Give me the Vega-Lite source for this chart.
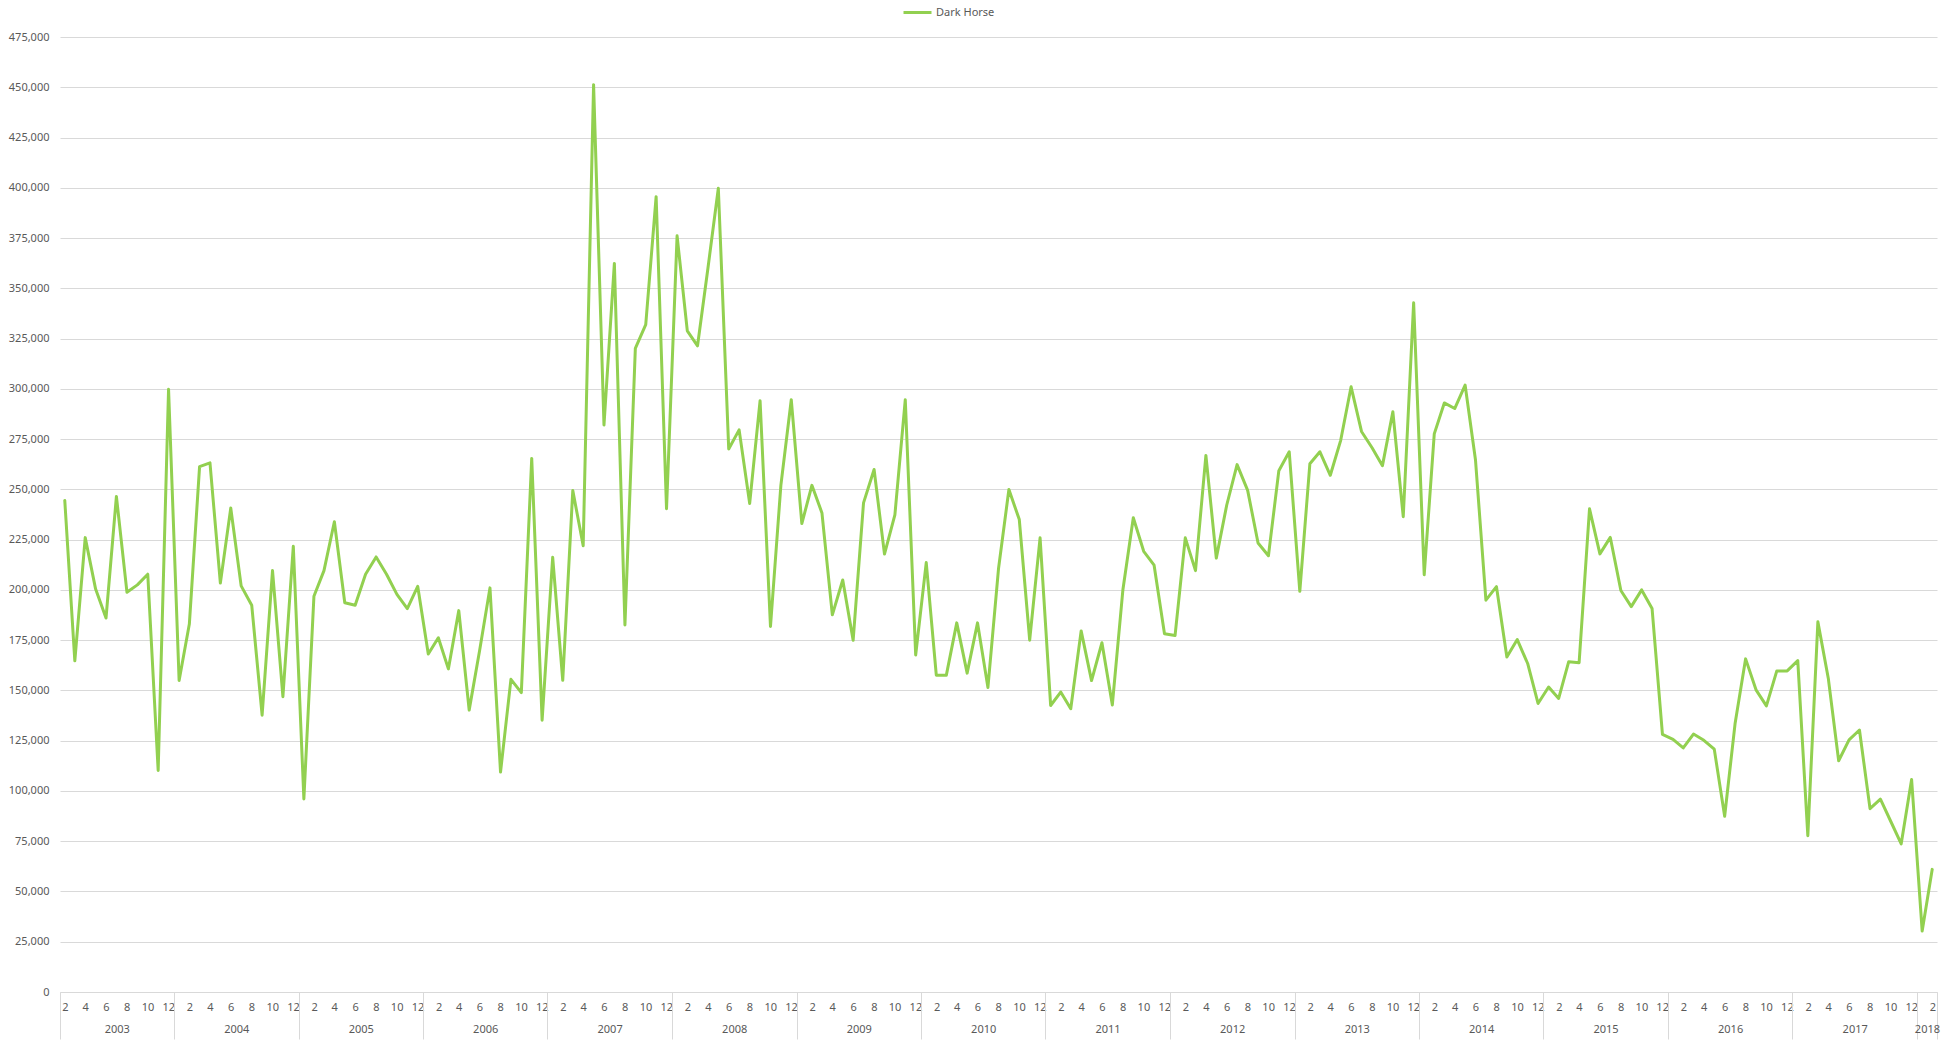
{
  "$schema": "https://vega.github.io/schema/vega-lite/v6.json",
  "autosize": {"type": "none"},
  "width": 1877,
  "height": 955,
  "padding": {"left": 60, "top": 37, "right": 14, "bottom": 53},
  "background": "#ffffff",
  "config": {
    "view": {"stroke": null},
    "font": "Noto Sans",
    "axis": {"labelFont": "Noto Sans", "labelFontSize": 11, "labelColor": "#595959"},
    "legend": {"labelFont": "Noto Sans"}
  },
  "data": {"values": [
    {"date": "2003-02", "series": "Dark Horse", "value": 244500},
    {"date": "2003-03", "series": "Dark Horse", "value": 164700},
    {"date": "2003-04", "series": "Dark Horse", "value": 226000},
    {"date": "2003-05", "series": "Dark Horse", "value": 200400},
    {"date": "2003-06", "series": "Dark Horse", "value": 186000},
    {"date": "2003-07", "series": "Dark Horse", "value": 246500},
    {"date": "2003-08", "series": "Dark Horse", "value": 198800},
    {"date": "2003-09", "series": "Dark Horse", "value": 202500},
    {"date": "2003-10", "series": "Dark Horse", "value": 207800},
    {"date": "2003-11", "series": "Dark Horse", "value": 110200},
    {"date": "2003-12", "series": "Dark Horse", "value": 299800},
    {"date": "2004-01", "series": "Dark Horse", "value": 154900},
    {"date": "2004-02", "series": "Dark Horse", "value": 183000},
    {"date": "2004-03", "series": "Dark Horse", "value": 261300},
    {"date": "2004-04", "series": "Dark Horse", "value": 263200},
    {"date": "2004-05", "series": "Dark Horse", "value": 203400},
    {"date": "2004-06", "series": "Dark Horse", "value": 240700},
    {"date": "2004-07", "series": "Dark Horse", "value": 202000},
    {"date": "2004-08", "series": "Dark Horse", "value": 192400},
    {"date": "2004-09", "series": "Dark Horse", "value": 137700},
    {"date": "2004-10", "series": "Dark Horse", "value": 209600},
    {"date": "2004-11", "series": "Dark Horse", "value": 146900},
    {"date": "2004-12", "series": "Dark Horse", "value": 221700},
    {"date": "2005-01", "series": "Dark Horse", "value": 96000},
    {"date": "2005-02", "series": "Dark Horse", "value": 196800},
    {"date": "2005-03", "series": "Dark Horse", "value": 209600},
    {"date": "2005-04", "series": "Dark Horse", "value": 233900},
    {"date": "2005-05", "series": "Dark Horse", "value": 193600},
    {"date": "2005-06", "series": "Dark Horse", "value": 192400},
    {"date": "2005-07", "series": "Dark Horse", "value": 207800},
    {"date": "2005-08", "series": "Dark Horse", "value": 216400},
    {"date": "2005-09", "series": "Dark Horse", "value": 207800},
    {"date": "2005-10", "series": "Dark Horse", "value": 197800},
    {"date": "2005-11", "series": "Dark Horse", "value": 190700},
    {"date": "2005-12", "series": "Dark Horse", "value": 201800},
    {"date": "2006-01", "series": "Dark Horse", "value": 168100},
    {"date": "2006-02", "series": "Dark Horse", "value": 176200},
    {"date": "2006-03", "series": "Dark Horse", "value": 160700},
    {"date": "2006-04", "series": "Dark Horse", "value": 189700},
    {"date": "2006-05", "series": "Dark Horse", "value": 140200},
    {"date": "2006-06", "series": "Dark Horse", "value": 169700},
    {"date": "2006-07", "series": "Dark Horse", "value": 201000},
    {"date": "2006-08", "series": "Dark Horse", "value": 109400},
    {"date": "2006-09", "series": "Dark Horse", "value": 155500},
    {"date": "2006-10", "series": "Dark Horse", "value": 148900},
    {"date": "2006-11", "series": "Dark Horse", "value": 265400},
    {"date": "2006-12", "series": "Dark Horse", "value": 135200},
    {"date": "2007-01", "series": "Dark Horse", "value": 216200},
    {"date": "2007-02", "series": "Dark Horse", "value": 155000},
    {"date": "2007-03", "series": "Dark Horse", "value": 249400},
    {"date": "2007-04", "series": "Dark Horse", "value": 222000},
    {"date": "2007-05", "series": "Dark Horse", "value": 451300},
    {"date": "2007-06", "series": "Dark Horse", "value": 282000},
    {"date": "2007-07", "series": "Dark Horse", "value": 362400},
    {"date": "2007-08", "series": "Dark Horse", "value": 182600},
    {"date": "2007-09", "series": "Dark Horse", "value": 320100},
    {"date": "2007-10", "series": "Dark Horse", "value": 331900},
    {"date": "2007-11", "series": "Dark Horse", "value": 395600},
    {"date": "2007-12", "series": "Dark Horse", "value": 240400},
    {"date": "2008-01", "series": "Dark Horse", "value": 376100},
    {"date": "2008-02", "series": "Dark Horse", "value": 328800},
    {"date": "2008-03", "series": "Dark Horse", "value": 321400},
    {"date": "2008-04", "series": "Dark Horse", "value": 360000},
    {"date": "2008-05", "series": "Dark Horse", "value": 399800},
    {"date": "2008-06", "series": "Dark Horse", "value": 270100},
    {"date": "2008-07", "series": "Dark Horse", "value": 279600},
    {"date": "2008-08", "series": "Dark Horse", "value": 243000},
    {"date": "2008-09", "series": "Dark Horse", "value": 294100},
    {"date": "2008-10", "series": "Dark Horse", "value": 181800},
    {"date": "2008-11", "series": "Dark Horse", "value": 252000},
    {"date": "2008-12", "series": "Dark Horse", "value": 294600},
    {"date": "2009-01", "series": "Dark Horse", "value": 233000},
    {"date": "2009-02", "series": "Dark Horse", "value": 252000},
    {"date": "2009-03", "series": "Dark Horse", "value": 238300},
    {"date": "2009-04", "series": "Dark Horse", "value": 187600},
    {"date": "2009-05", "series": "Dark Horse", "value": 204900},
    {"date": "2009-06", "series": "Dark Horse", "value": 174900},
    {"date": "2009-07", "series": "Dark Horse", "value": 243300},
    {"date": "2009-08", "series": "Dark Horse", "value": 259900},
    {"date": "2009-09", "series": "Dark Horse", "value": 217800},
    {"date": "2009-10", "series": "Dark Horse", "value": 237300},
    {"date": "2009-11", "series": "Dark Horse", "value": 294600},
    {"date": "2009-12", "series": "Dark Horse", "value": 167600},
    {"date": "2010-01", "series": "Dark Horse", "value": 213600},
    {"date": "2010-02", "series": "Dark Horse", "value": 157600},
    {"date": "2010-03", "series": "Dark Horse", "value": 157600},
    {"date": "2010-04", "series": "Dark Horse", "value": 183600},
    {"date": "2010-05", "series": "Dark Horse", "value": 158600},
    {"date": "2010-06", "series": "Dark Horse", "value": 183600},
    {"date": "2010-07", "series": "Dark Horse", "value": 151500},
    {"date": "2010-08", "series": "Dark Horse", "value": 210500},
    {"date": "2010-09", "series": "Dark Horse", "value": 249900},
    {"date": "2010-10", "series": "Dark Horse", "value": 235000},
    {"date": "2010-11", "series": "Dark Horse", "value": 175000},
    {"date": "2010-12", "series": "Dark Horse", "value": 225900},
    {"date": "2011-01", "series": "Dark Horse", "value": 142500},
    {"date": "2011-02", "series": "Dark Horse", "value": 149200},
    {"date": "2011-03", "series": "Dark Horse", "value": 140900},
    {"date": "2011-04", "series": "Dark Horse", "value": 179600},
    {"date": "2011-05", "series": "Dark Horse", "value": 154900},
    {"date": "2011-06", "series": "Dark Horse", "value": 173700},
    {"date": "2011-07", "series": "Dark Horse", "value": 142800},
    {"date": "2011-08", "series": "Dark Horse", "value": 200100},
    {"date": "2011-09", "series": "Dark Horse", "value": 235900},
    {"date": "2011-10", "series": "Dark Horse", "value": 219200},
    {"date": "2011-11", "series": "Dark Horse", "value": 212300},
    {"date": "2011-12", "series": "Dark Horse", "value": 178200},
    {"date": "2012-01", "series": "Dark Horse", "value": 177300},
    {"date": "2012-02", "series": "Dark Horse", "value": 225900},
    {"date": "2012-03", "series": "Dark Horse", "value": 209600},
    {"date": "2012-04", "series": "Dark Horse", "value": 266900},
    {"date": "2012-05", "series": "Dark Horse", "value": 215800},
    {"date": "2012-06", "series": "Dark Horse", "value": 242100},
    {"date": "2012-07", "series": "Dark Horse", "value": 262300},
    {"date": "2012-08", "series": "Dark Horse", "value": 249500},
    {"date": "2012-09", "series": "Dark Horse", "value": 223300},
    {"date": "2012-10", "series": "Dark Horse", "value": 217000},
    {"date": "2012-11", "series": "Dark Horse", "value": 259300},
    {"date": "2012-12", "series": "Dark Horse", "value": 268700},
    {"date": "2013-01", "series": "Dark Horse", "value": 199300},
    {"date": "2013-02", "series": "Dark Horse", "value": 262700},
    {"date": "2013-03", "series": "Dark Horse", "value": 268700},
    {"date": "2013-04", "series": "Dark Horse", "value": 257000},
    {"date": "2013-05", "series": "Dark Horse", "value": 274400},
    {"date": "2013-06", "series": "Dark Horse", "value": 301000},
    {"date": "2013-07", "series": "Dark Horse", "value": 278800},
    {"date": "2013-08", "series": "Dark Horse", "value": 270700},
    {"date": "2013-09", "series": "Dark Horse", "value": 261800},
    {"date": "2013-10", "series": "Dark Horse", "value": 288600},
    {"date": "2013-11", "series": "Dark Horse", "value": 236400},
    {"date": "2013-12", "series": "Dark Horse", "value": 342800},
    {"date": "2014-01", "series": "Dark Horse", "value": 207500},
    {"date": "2014-02", "series": "Dark Horse", "value": 277600},
    {"date": "2014-03", "series": "Dark Horse", "value": 293000},
    {"date": "2014-04", "series": "Dark Horse", "value": 290200},
    {"date": "2014-05", "series": "Dark Horse", "value": 301900},
    {"date": "2014-06", "series": "Dark Horse", "value": 264600},
    {"date": "2014-07", "series": "Dark Horse", "value": 194900},
    {"date": "2014-08", "series": "Dark Horse", "value": 201600},
    {"date": "2014-09", "series": "Dark Horse", "value": 166600},
    {"date": "2014-10", "series": "Dark Horse", "value": 175300},
    {"date": "2014-11", "series": "Dark Horse", "value": 163400},
    {"date": "2014-12", "series": "Dark Horse", "value": 143500},
    {"date": "2015-01", "series": "Dark Horse", "value": 151700},
    {"date": "2015-02", "series": "Dark Horse", "value": 146000},
    {"date": "2015-03", "series": "Dark Horse", "value": 164300},
    {"date": "2015-04", "series": "Dark Horse", "value": 163800},
    {"date": "2015-05", "series": "Dark Horse", "value": 240300},
    {"date": "2015-06", "series": "Dark Horse", "value": 217900},
    {"date": "2015-07", "series": "Dark Horse", "value": 226100},
    {"date": "2015-08", "series": "Dark Horse", "value": 199700},
    {"date": "2015-09", "series": "Dark Horse", "value": 191700},
    {"date": "2015-10", "series": "Dark Horse", "value": 200000},
    {"date": "2015-11", "series": "Dark Horse", "value": 190800},
    {"date": "2015-12", "series": "Dark Horse", "value": 128100},
    {"date": "2016-01", "series": "Dark Horse", "value": 125700},
    {"date": "2016-02", "series": "Dark Horse", "value": 121400},
    {"date": "2016-03", "series": "Dark Horse", "value": 128300},
    {"date": "2016-04", "series": "Dark Horse", "value": 125200},
    {"date": "2016-05", "series": "Dark Horse", "value": 120800},
    {"date": "2016-06", "series": "Dark Horse", "value": 87400},
    {"date": "2016-07", "series": "Dark Horse", "value": 133400},
    {"date": "2016-08", "series": "Dark Horse", "value": 165700},
    {"date": "2016-09", "series": "Dark Horse", "value": 150300},
    {"date": "2016-10", "series": "Dark Horse", "value": 142300},
    {"date": "2016-11", "series": "Dark Horse", "value": 159700},
    {"date": "2016-12", "series": "Dark Horse", "value": 159700},
    {"date": "2017-01", "series": "Dark Horse", "value": 164800},
    {"date": "2017-02", "series": "Dark Horse", "value": 77700},
    {"date": "2017-03", "series": "Dark Horse", "value": 184100},
    {"date": "2017-04", "series": "Dark Horse", "value": 156100},
    {"date": "2017-05", "series": "Dark Horse", "value": 115000},
    {"date": "2017-06", "series": "Dark Horse", "value": 125400},
    {"date": "2017-07", "series": "Dark Horse", "value": 130300},
    {"date": "2017-08", "series": "Dark Horse", "value": 91200},
    {"date": "2017-09", "series": "Dark Horse", "value": 95900},
    {"date": "2017-10", "series": "Dark Horse", "value": 84800},
    {"date": "2017-11", "series": "Dark Horse", "value": 73700},
    {"date": "2017-12", "series": "Dark Horse", "value": 105700},
    {"date": "2018-01", "series": "Dark Horse", "value": 30300},
    {"date": "2018-02", "series": "Dark Horse", "value": 61000}
  ]},
  "encoding": {
    "y": {
      "field": "value",
      "type": "quantitative",
      "scale": {"domain": [0, 475000], "nice": false, "zero": true},
      "axis": {
        "title": null,
        "values": [0, 25000, 50000, 75000, 100000, 125000, 150000, 175000, 200000, 225000, 250000, 275000, 300000, 325000, 350000, 375000, 400000, 425000, 450000, 475000],
        "format": ",.0f",
        "domain": false,
        "ticks": false,
        "grid": true,
        "gridColor": "#d9d9d9",
        "gridWidth": 1,
        "labelPadding": 11,
        "labelFontSize": 11,
        "labelColor": "#595959"
      }
    }
  },
  "layer": [
    {
      "mark": {"type": "line", "strokeWidth": 3, "strokeJoin": "round", "strokeCap": "round"},
      "encoding": {
        "x": {
          "field": "date",
          "timeUnit": "utcyearmonth",
          "type": "temporal",
          "bandPosition": 0.5,
          "scale": {"type": "utc", "domain": [{"year": 2003, "month": 2, "date": 1, "utc": true}, {"year": 2018, "month": 3, "date": 1, "utc": true}], "nice": false},
          "axis": {
            "orient": "bottom",
            "title": null,
            "domain": false,
            "ticks": false,
            "grid": false,
            "tickCount": {"interval": "month", "step": 1},
            "labelExpr": "utcmonth(datum.value) % 2 == 1 ? utcFormat(datum.value, '%-m') : ''",
            "labelOffset": 5,
            "labelPadding": 9,
            "labelOverlap": false,
            "labelFlush": false,
            "labelBound": false,
            "labelFontSize": 11,
            "labelColor": "#595959"
          }
        },
        "color": {
          "field": "series",
          "type": "nominal",
          "scale": {"range": ["#92d050"]},
          "legend": {
            "orient": "none",
            "legendX": 842,
            "legendY": -40,
            "title": null,
            "padding": 0,
            "symbolType": "stroke",
            "symbolSize": 784,
            "symbolStrokeWidth": 3,
            "labelFontSize": 11,
            "labelColor": "#595959",
            "labelOffset": 3
          }
        }
      }
    },
    {
      "mark": {"type": "line", "strokeOpacity": 0},
      "encoding": {
        "x": {
          "field": "date",
          "timeUnit": "utcyearmonth",
          "type": "temporal",
          "bandPosition": 0.5,
          "axis": {
            "orient": "bottom",
            "title": null,
            "domain": true,
            "domainColor": "#d9d9d9",
            "domainWidth": 1,
            "ticks": true,
            "tickColor": "#d9d9d9",
            "tickWidth": 1,
            "tickSize": 47,
            "grid": false,
            "labels": false,
            "values": [
              {"year": 2003, "month": 2, "date": 1, "utc": true},
              {"year": 2004, "month": 1, "date": 1, "utc": true},
              {"year": 2005, "month": 1, "date": 1, "utc": true},
              {"year": 2006, "month": 1, "date": 1, "utc": true},
              {"year": 2007, "month": 1, "date": 1, "utc": true},
              {"year": 2008, "month": 1, "date": 1, "utc": true},
              {"year": 2009, "month": 1, "date": 1, "utc": true},
              {"year": 2010, "month": 1, "date": 1, "utc": true},
              {"year": 2011, "month": 1, "date": 1, "utc": true},
              {"year": 2012, "month": 1, "date": 1, "utc": true},
              {"year": 2013, "month": 1, "date": 1, "utc": true},
              {"year": 2014, "month": 1, "date": 1, "utc": true},
              {"year": 2015, "month": 1, "date": 1, "utc": true},
              {"year": 2016, "month": 1, "date": 1, "utc": true},
              {"year": 2017, "month": 1, "date": 1, "utc": true},
              {"year": 2018, "month": 1, "date": 1, "utc": true},
              {"year": 2018, "month": 3, "date": 1, "utc": true}
            ]
          }
        }
      }
    },
    {
      "mark": {"type": "line", "strokeOpacity": 0},
      "encoding": {
        "x": {
          "field": "date",
          "timeUnit": "utcyearmonth",
          "type": "temporal",
          "bandPosition": 0.5,
          "axis": {
            "orient": "bottom",
            "title": null,
            "domain": false,
            "ticks": false,
            "grid": false,
            "labelPadding": 31,
            "labelOverlap": false,
            "labelFlush": false,
            "labelBound": false,
            "labelFontSize": 11,
            "labelColor": "#595959",
            "labelExpr": "utcFormat(datum.value, '%Y')",
            "values": [
              {"year": 2003, "month": 7, "date": 17, "hours": 12, "utc": true},
              {"year": 2004, "month": 7, "date": 2, "utc": true},
              {"year": 2005, "month": 7, "date": 2, "hours": 12, "utc": true},
              {"year": 2006, "month": 7, "date": 2, "hours": 12, "utc": true},
              {"year": 2007, "month": 7, "date": 2, "hours": 12, "utc": true},
              {"year": 2008, "month": 7, "date": 2, "utc": true},
              {"year": 2009, "month": 7, "date": 2, "hours": 12, "utc": true},
              {"year": 2010, "month": 7, "date": 2, "hours": 12, "utc": true},
              {"year": 2011, "month": 7, "date": 2, "hours": 12, "utc": true},
              {"year": 2012, "month": 7, "date": 2, "utc": true},
              {"year": 2013, "month": 7, "date": 2, "hours": 12, "utc": true},
              {"year": 2014, "month": 7, "date": 2, "hours": 12, "utc": true},
              {"year": 2015, "month": 7, "date": 2, "hours": 12, "utc": true},
              {"year": 2016, "month": 7, "date": 2, "utc": true},
              {"year": 2017, "month": 7, "date": 2, "hours": 12, "utc": true},
              {"year": 2018, "month": 1, "date": 30, "hours": 12, "utc": true}
            ]
          }
        }
      }
    }
  ],
  "resolve": {"axis": {"x": "independent"}}
}
